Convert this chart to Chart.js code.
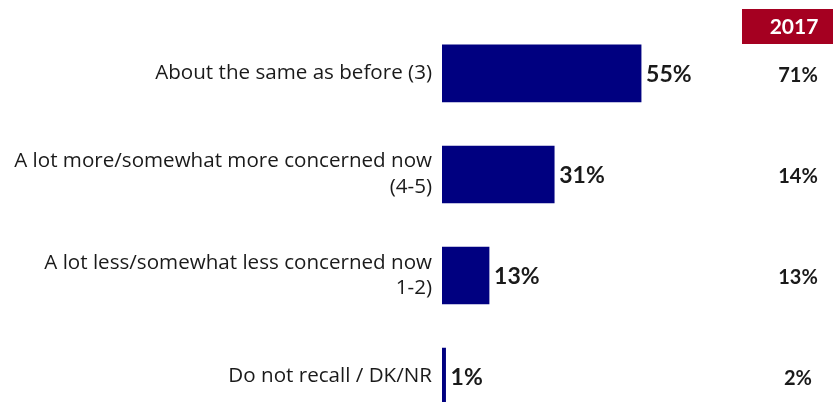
<!DOCTYPE html>
<html>
<head>
<meta charset="utf-8">
<script src="https://cdn.jsdelivr.net/npm/chart.js@4"></script>
<style>
    html, body { margin: 0; padding: 0; background: #fff; overflow: hidden; }
</style>
</head>
<body>
<canvas id="concernChart" width="833" height="450"></canvas>
<script>
// ===== Data =====
const categories = [
    ['About the same as before (3)'],
    ['A lot more/somewhat more concerned now', '(4-5)'],
    ['A lot less/somewhat less concerned now', '1-2)'],
    ['Do not recall / DK/NR']
];
const values2019 = [55, 31, 13, 1];
const values2017 = [71, 14, 13, 2];
const compareYear = '2017';

// ===== Colors =====
const colors = {
    bar: '#000080',
    text: '#1a1a1a',
    header: '#A50021'
};

const LABEL_FONT = '"Open Sans", sans-serif';
const NUM_FONT = 'Lato, "Open Sans", sans-serif';

// value labels at end of bars
const valueLabels = {
    id: 'valueLabels',
    afterDatasetsDraw(chart) {
        const { ctx } = chart;
        const meta = chart.getDatasetMeta(0);
        ctx.save();
        ctx.font = `bold 23px ${NUM_FONT}`;
        ctx.fillStyle = colors.text;
        ctx.textAlign = 'left';
        ctx.textBaseline = 'middle';
        meta.data.forEach((bar, i) => {
            ctx.fillText(values2019[i] + '%', bar.x + 5, bar.y + 1);
        });
        ctx.restore();
    }
};

// 2017 comparison column
const compareColumn = {
    id: 'compareColumn',
    afterDraw(chart) {
        const { ctx } = chart;
        const yScale = chart.scales.y;
        ctx.save();
        ctx.fillStyle = colors.header;
        ctx.fillRect(742, 9, 91, 35);
        ctx.fillStyle = '#fff';
        ctx.font = `bold 21px ${NUM_FONT}`;
        ctx.textAlign = 'center';
        ctx.textBaseline = 'middle';
        ctx.fillText(compareYear, 794, 27);
        ctx.fillStyle = colors.text;
        ctx.font = `bold 20px ${NUM_FONT}`;
        values2017.forEach((v, i) => {
            ctx.fillText(v + '%', 798, yScale.getPixelForValue(i) + 2);
        });
        ctx.restore();
    }
};

new Chart(document.getElementById('concernChart'), {
    type: 'bar',
    data: {
        labels: categories,
        datasets: [{
            data: values2019,
            backgroundColor: colors.bar,
            borderWidth: 0,
            barThickness: 57
        }]
    },
    options: {
        indexAxis: 'y',
        responsive: false,
        animation: false,
        layout: { padding: { top: 10, right: 29, bottom: 0, left: 0 } },
        plugins: {
            legend: { display: false },
            tooltip: { enabled: false }
        },
        scales: {
            x: {
                display: false,
                min: 0,
                max: 100
            },
            y: {
                grid: { display: false, drawTicks: false },
                border: { display: false },
                afterFit(scale) { scale.width = 442; },
                ticks: {
                    padding: 10,
                    color: colors.text,
                    font: { size: 20.6, family: LABEL_FONT, lineHeight: 1.25 }
                }
            }
        }
    },
    plugins: [valueLabels, compareColumn]
});
</script>
</body>
</html>
